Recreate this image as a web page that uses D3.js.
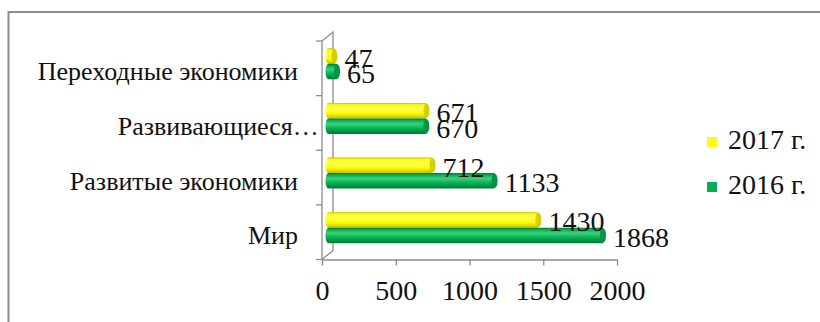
<!DOCTYPE html>
<html>
<head>
<meta charset="utf-8">
<script src="https://cdn.jsdelivr.net/npm/d3@7"></script>
<style>
  html, body { margin: 0; padding: 0; background: #fff; }
  svg { display: block; }
  svg text { fill: #111; }
</style>
</head>
<body>
<svg id="chart" width="820" height="322"></svg>
<script>
// Categories, top to bottom
const categories = ["Переходные экономики", "Развивающиеся…", "Развитые экономики", "Мир"];
const series = ["2017 г.", "2016 г."];
const values2017 = [47, 671, 712, 1430];
const values2016 = [65, 670, 1133, 1868];
const xTicks = [0, 500, 1000, 1500, 2000];

const colors = {
  "2017 г.": { top: "#ffff5a", mid: "#ffff00", bot: "#c8be00", cap: "#d8cc00" },
  "2016 г.": { top: "#3fcf7a", mid: "#00b050", bot: "#00783a", cap: "#009544" }
};
const axisColor = "#8c8c8c";
const FONT = '"Times New Roman", "Liberation Serif", "DejaVu Serif", serif';

const svg = d3.select("#chart");

// outer frame
svg.append("rect")
  .attr("x", 8.5).attr("y", 12).attr("width", 830).attr("height", 330)
  .attr("fill", "none").attr("stroke", axisColor).attr("stroke-width", 2);

const x = d3.scaleLinear().domain([0, 2000]).range([322, 617]);
const y = d3.scaleBand().domain(categories).range([41, 259.5]);
const depth = { dx: 11, dy: -9 };
const sub = d3.scaleBand().domain(series).range([0, 31]);

// gradients for the rounded bars
const defs = svg.append("defs");
series.forEach((s, i) => {
  const g = defs.append("linearGradient").attr("id", "g" + i)
    .attr("x1", 0).attr("y1", 0).attr("x2", 0).attr("y2", 1);
  g.append("stop").attr("offset", "0%").attr("stop-color", colors[s].bot);
  g.append("stop").attr("offset", "12%").attr("stop-color", colors[s].mid);
  g.append("stop").attr("offset", "35%").attr("stop-color", colors[s].top);
  g.append("stop").attr("offset", "65%").attr("stop-color", colors[s].mid);
  g.append("stop").attr("offset", "100%").attr("stop-color", colors[s].bot);
});

// 3D walls: back wall edge, floor connector
const x0 = x(0), yTop = y.range()[0], yBot = y.range()[1];
const walls = svg.append("g").attr("stroke", axisColor).attr("fill", "none").attr("stroke-width", 1.3);
walls.append("path").attr("d",
  `M${x0},${yTop} L${x0 + depth.dx},${yTop + depth.dy} L${x0 + depth.dx},${yBot + depth.dy} L${x0},${yBot}`);

// vertical category axis
const yg = svg.append("g").attr("transform", `translate(${x0},0)`);
const bounds = categories.map(c => y(c)).concat([yBot]);
yg.selectAll(".bt").data(bounds).enter().append("line")
  .attr("x1", -6).attr("x2", 0).attr("y1", d => d).attr("y2", d => d)
  .attr("stroke", axisColor).attr("stroke-width", 1.3);
yg.append("path").attr("stroke", axisColor).attr("stroke-width", 1.3)
  .attr("d", `M0,${yTop}V${yBot}`);

// category labels
const labels = svg.append("g").attr("font-size", 26).attr("text-anchor", "end").attr("font-family", FONT);
categories.forEach(c => {
  const t = labels.append("text")
    .attr("x", 298).attr("y", y(c) + y.bandwidth() / 2 + 12)
    .text(c);
  if (c.endsWith("…")) {
    // let the ellipsis hang past the label column
    const e = labels.append("text").attr("visibility", "hidden").text("…");
    const w = e.node().getComputedTextLength();
    e.remove();
    t.attr("x", 298 + w * 0.8);
  }
});

// horizontal value axis
const xAxis = d3.axisBottom(x).tickValues(xTicks).tickSize(6).tickSizeOuter(0).tickFormat(d3.format("d"));
const xg = svg.append("g").attr("transform", `translate(0,${yBot})`).call(xAxis)
  .attr("font-family", FONT);
xg.select(".domain").attr("stroke", axisColor).attr("stroke-width", 1.3);
xg.selectAll(".tick line").attr("stroke", axisColor).attr("stroke-width", 1.3);
xg.selectAll(".tick text").attr("font-size", 28)
  .attr("fill", "#111").attr("dy", 0).attr("y", 40);

// bars
const rows = categories.map((c, i) => ({ c, v: { "2017 г.": values2017[i], "2016 г.": values2016[i] } }));
const barH = sub.bandwidth();
const off = { dx: depth.dx / 2, dy: depth.dy / 2 };
const barsG = svg.append("g");
const valG = svg.append("g").attr("font-family", FONT).attr("font-size", 28);
rows.forEach(r => {
  series.forEach((s, si) => {
    const by = y(r.c) + (y.bandwidth() - 31) / 2 + sub(s) + off.dy;
    const bx = x(0) + off.dx;
    const bw = x(r.v[s]) - x(0);
    barsG.append("rect")
      .attr("x", bx - 2).attr("y", by).attr("width", bw + 4).attr("height", barH)
      .attr("rx", 3).attr("ry", barH / 2)
      .attr("fill", `url(#g${si})`);
    // end cap
    barsG.append("ellipse")
      .attr("cx", bx + bw).attr("cy", by + barH / 2)
      .attr("rx", 3).attr("ry", barH / 2 - 0.5)
      .attr("fill", colors[s].cap);
    // value label
    valG.append("text")
      .attr("x", bx + bw + 10).attr("y", by + barH / 2 + 11.5)
      .text(r.v[s]);
  });
});

// legend
const legend = svg.append("g").attr("font-family", FONT);
series.forEach((s, i) => {
  const ly = 137 + i * 45;
  legend.append("rect").attr("x", 707).attr("y", ly).attr("width", 10).attr("height", 10)
    .attr("fill", colors[s].mid);
  legend.append("text").attr("x", 728).attr("y", ly + 12).attr("font-size", 28).text(s);
});
</script>
</body>
</html>
